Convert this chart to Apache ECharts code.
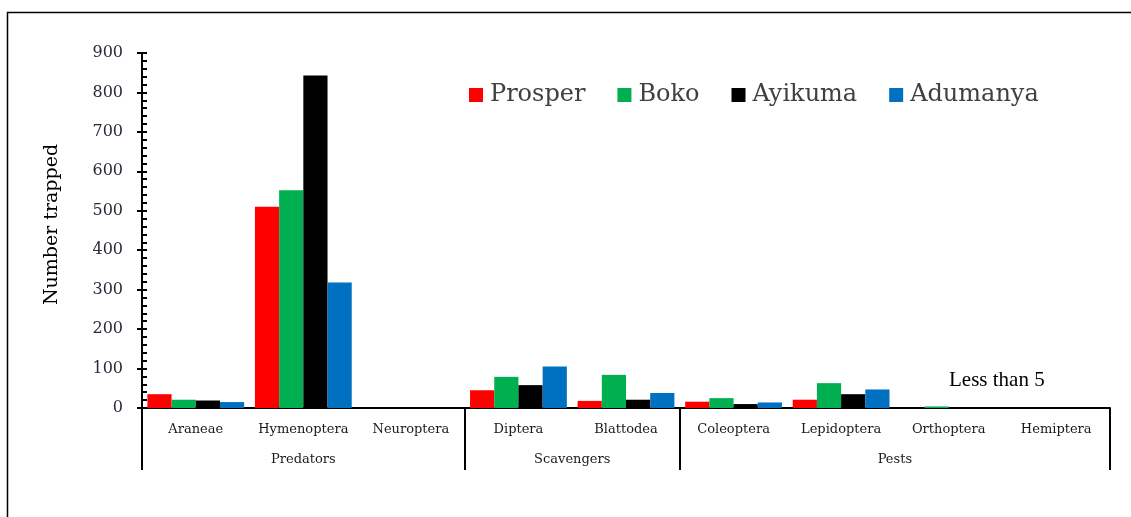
<!DOCTYPE html>
<html>
<head>
<meta charset="utf-8">
<script src="https://cdn.jsdelivr.net/npm/echarts@6/dist/echarts.min.js"></script>
<style>
  html, body { margin: 0; padding: 0; background: #fff; }
  #chart { width: 1131px; height: 517px; }
</style>
</head>
<body>
<div id="chart"></div>
<script>
// insect orders trapped per site
var categories = ["Araneae", "Hymenoptera", "Neuroptera", "Diptera", "Blattodea", "Coleoptera", "Lepidoptera", "Orthoptera", "Hemiptera"];
var groups = ["Predators", "Scavengers", "Pests"];
var groupSizes = [3, 2, 4];

var prosper = [35, 510, 0, 45, 18, 16, 21, 0, 0];
var boko = [21, 552, 0, 79, 84, 25, 63, 4, 0];
var ayikuma = [19, 843, 0, 58, 21, 10, 35, 0, 0];
var adumanya = [15, 318, 0, 105, 38, 14, 47, 0, 0];

var yTicks = [0, 100, 200, 300, 400, 500, 600, 700, 800, 900];

// group boundaries and centres (in category units)
var bounds = [0];
var centres = [];
groupSizes.forEach(function (n) {
  var start = bounds[bounds.length - 1];
  centres.push(start + n / 2);
  bounds.push(start + n);
});

var serif = "DejaVu Serif";
var chart = echarts.init(document.getElementById("chart"));

function bar(name, data, color) {
  return {
    name: name,
    type: "bar",
    data: data,
    xAxisIndex: 0,
    yAxisIndex: 0,
    barGap: "0%",
    barCategoryGap: "10%",
    itemStyle: { color: color },
    emphasis: { disabled: true }
  };
}

chart.setOption({
  animation: false,
  backgroundColor: "#fff",
  grid: { left: 142, right: 21, top: 53, bottom: 109, containLabel: false },
  legend: {
    left: 464,
    top: 78,
    itemWidth: 14,
    itemHeight: 14,
    itemGap: 32,
    icon: "rect",
    textStyle: { fontFamily: serif, fontSize: 24, color: "#404040", padding: [0, 0, 0, 2] },
    data: ["Prosper", "Boko", "Ayikuma", "Adumanya"]
  },
  xAxis: [
    {
      type: "category",
      data: categories,
      position: "bottom",
      axisLine: { lineStyle: { color: "#000", width: 2 } },
      axisTick: { show: false },
      axisLabel: { fontFamily: serif, fontSize: 13, color: "#1a1a1a", margin: 15, interval: 0 },
      splitLine: { show: false }
    },
    {
      type: "value",
      min: 0,
      max: categories.length,
      position: "bottom",
      axisLine: { show: false },
      axisTick: { show: true, customValues: bounds, length: 62, lineStyle: { color: "#000", width: 2 } },
      axisLabel: {
        customValues: centres,
        fontFamily: serif, fontSize: 13, color: "#1a1a1a", margin: 45,
        formatter: function (v) { return groups[centres.indexOf(v)]; }
      },
      splitLine: { show: false }
    }
  ],
  yAxis: [
    {
      type: "value",
      min: yTicks[0],
      max: yTicks[yTicks.length - 1],
      interval: 100,
      position: "left",
      name: "Number trapped",
      nameLocation: "middle",
      nameGap: 80,
      nameTextStyle: { fontFamily: serif, fontSize: 19, color: "#000", padding: [0, 0, 0, 12] },
      axisLine: { show: true, lineStyle: { color: "#000", width: 2 } },
      axisTick: { show: true, inside: true, length: 5, lineStyle: { color: "#000", width: 2 } },
      minorTick: { show: true, splitNumber: 5, length: 5, lineStyle: { color: "#000", width: 2 } },
      axisLabel: { fontFamily: serif, fontSize: 16, color: "#2a2a3a", margin: 19 },
      splitLine: { show: false }
    },
    {
      // outer halves of the major ticks
      type: "value",
      min: yTicks[0],
      max: yTicks[yTicks.length - 1],
      interval: 100,
      position: "left",
      axisLine: { show: false },
      axisTick: { show: true, inside: false, length: 5, lineStyle: { color: "#000", width: 2 } },
      axisLabel: { show: false },
      splitLine: { show: false }
    }
  ],
  graphic: [
    { type: "line", shape: { x1: 7, y1: 12.5, x2: 1131, y2: 12.5 }, style: { stroke: "#000", lineWidth: 1.5 } },
    { type: "line", shape: { x1: 7.5, y1: 12, x2: 7.5, y2: 517 }, style: { stroke: "#000", lineWidth: 1.5 } },
    {
      type: "text", left: 949, top: 370,
      style: { text: "Less than 5", font: "21px 'Liberation Serif'", fill: "#000" }
    }
  ],
  series: [
    bar("Prosper", prosper, "#FF0000"),
    bar("Boko", boko, "#00B050"),
    bar("Ayikuma", ayikuma, "#000000"),
    bar("Adumanya", adumanya, "#0070C0")
  ]
});
</script>
</body>
</html>
